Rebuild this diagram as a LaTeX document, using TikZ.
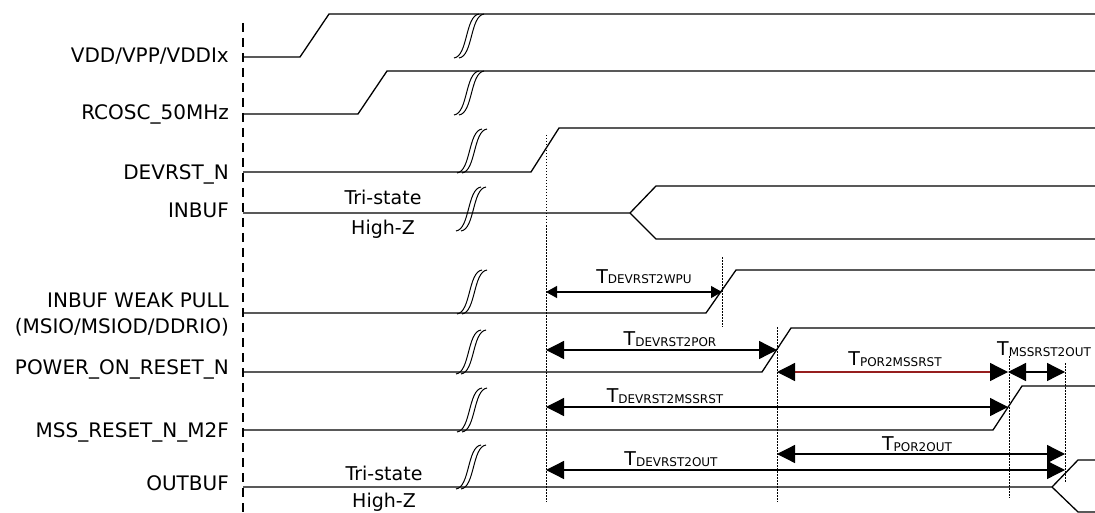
\documentclass[tikz,border=0pt]{standalone}
\usepackage{fontspec}
\setmainfont{DejaVu Sans}
\usetikzlibrary{arrows.meta, positioning, calc}
\definecolor{porred}{RGB}{150,30,30}
\newcommand{\tsub}[1]{T\raisebox{-1pt}{\fontsize{12}{12}\selectfont #1}}

\begin{document}
\begin{tikzpicture}[x=1pt, y=-1pt, font=\fontsize{19}{22}\selectfont,
    sig/.style={line width=1.3pt, line join=round},
    guide/.style={line width=1pt, dash pattern=on 1.5pt off 1.5pt},
    dim/.style={line width=1.3pt, {Triangle[length=18pt,width=18pt]}-{Triangle[length=18pt,width=18pt]}},
    dimsmall/.style={line width=1.2pt, {Triangle[length=11pt,width=12pt]}-{Triangle[length=11pt,width=12pt]}},
    lbl/.style={anchor=base east, inner sep=0pt, font=\fontsize{20}{22}\selectfont},
    tlbl/.style={anchor=base, inner sep=0pt},
    brk/.pic={\draw[line width=1pt] (0,0) .. controls (14,-2) and (11,-42) .. (25,-44);
              \draw[line width=1pt] (5,0) .. controls (19,-2) and (16,-42) .. (30,-44);}]
    \useasboundingbox (0,0) rectangle (1095,513);

    % signal names
    \node[lbl] (vdd) at (229,63) {VDD/VPP/VDDIx};
    \node[lbl] (rcosc) at (229,120) {RCOSC\_50MHz};
    \node[lbl] (devrst) at (229,180) {DEVRST\_N};
    \node[lbl] (inbuf) at (229,218) {INBUF};
    \node[lbl] (weak) at (229,307) {INBUF WEAK PULL};
    \node[lbl] (msio) at (229,333) {(MSIO/MSIOD/DDRIO)};
    \node[lbl] (porn) at (229,374) {POWER\_ON\_RESET\_N};
    \node[lbl] (mssn) at (229,437) {MSS\_RESET\_N\_M2F};
    \node[lbl] (outbuf) at (229,490) {OUTBUF};

    \draw[line width=1.2pt, dash pattern=on 9pt off 6pt] (243,23) -- (243,513);

    % waveforms
    \draw[sig] (243,57) -- (300,57) -- (329,14) -- (1095,14);
    \draw[sig] (243,114) -- (358,114) -- (387,71) -- (1095,71);
    \draw[sig] (243,172) -- (531,172) -- (559,128) -- (1095,128);
    \draw[sig] (243,213) -- (630,213) -- (656,186) -- (1095,186);
    \draw[sig] (630,213) -- (656,239) -- (1095,239);
    \draw[sig] (243,313) -- (706,313) -- (736,270) -- (1095,270);
    \draw[sig] (243,372) -- (762,372) -- (791,328) -- (1095,328);
    \draw[sig] (243,430) -- (993,430) -- (1022,386) -- (1095,386);
    \draw[sig] (243,487) -- (1052,487) -- (1078,460) -- (1095,460);
    \draw[sig] (1052,487) -- (1078,512) -- (1095,512);

    \node[tlbl] (tri1) at (383,205) {Tri-state};
    \node[tlbl] (hiz1) at (383,235) {High-Z};
    \node[tlbl] (tri2) at (384,480) {Tri-state};
    \node[tlbl] (hiz2) at (384,507) {High-Z};

    % time breaks
    \pic at (454,58) {brk};
    \pic at (454,115) {brk};
    \pic at (457,173) {brk};
    \pic at (456,231) {brk};
    \pic at (457,314) {brk};
    \pic at (456,374) {brk};
    \pic at (457,432) {brk};
    \pic at (456,489) {brk};

    % event times and arrow levels
    \coordinate (dev) at (546,0);
    \coordinate (wpu) at (722,0);
    \coordinate (por) at (777,0);
    \coordinate (mss) at (1008,0);
    \coordinate (out) at (1065,0);
    \coordinate (yW) at (0,292);
    \coordinate (yP) at (0,350);
    \coordinate (yM) at (0,372);
    \coordinate (yDM) at (0,407);
    \coordinate (yPO) at (0,454);
    \coordinate (yDO) at (0,470);

    \draw[guide] (546,135) -- (546,502);
    \draw[guide] (722,257) -- (722,327);
    \draw[guide] (777,327) -- (777,502);
    \draw[guide] (1009,356) -- (1009,498);
    \draw[guide] (1065,363) -- (1065,483);

    \draw[dimsmall] (dev |- yW) -- (wpu |- yW);
    \draw[dim] (dev |- yP) -- (por |- yP);
    \draw[dim, draw=porred, {Triangle[length=18pt,width=18pt,color=black]}-{Triangle[length=18pt,width=18pt,color=black]}] (por |- yM) -- (mss |- yM);
    \draw[dim] (mss |- yM) -- (out |- yM);
    \draw[dim] (dev |- yDM) -- (mss |- yDM);
    \draw[dim] (por |- yPO) -- (out |- yPO);
    \draw[dim] (dev |- yDO) -- (out |- yDO);

    \node[tlbl] (twpu) at (644,283) {\tsub{DEVRST2WPU}};
    \node[tlbl] (tpor) at (670,345) {\tsub{DEVRST2POR}};
    \node[tlbl] (tpormss) at (895,365) {\tsub{POR2MSSRST}};
    \node[tlbl, anchor=base west] (tmssout) at (997,355) {\tsub{MSSRST2OUT}};
    \node[tlbl] (tdevmss) at (665,402) {\tsub{DEVRST2MSSRST}};
    \node[tlbl] (tporout) at (917,450) {\tsub{POR2OUT}};
    \node[tlbl] (tdevout) at (671,465) {\tsub{DEVRST2OUT}};
\end{tikzpicture}
\end{document}
